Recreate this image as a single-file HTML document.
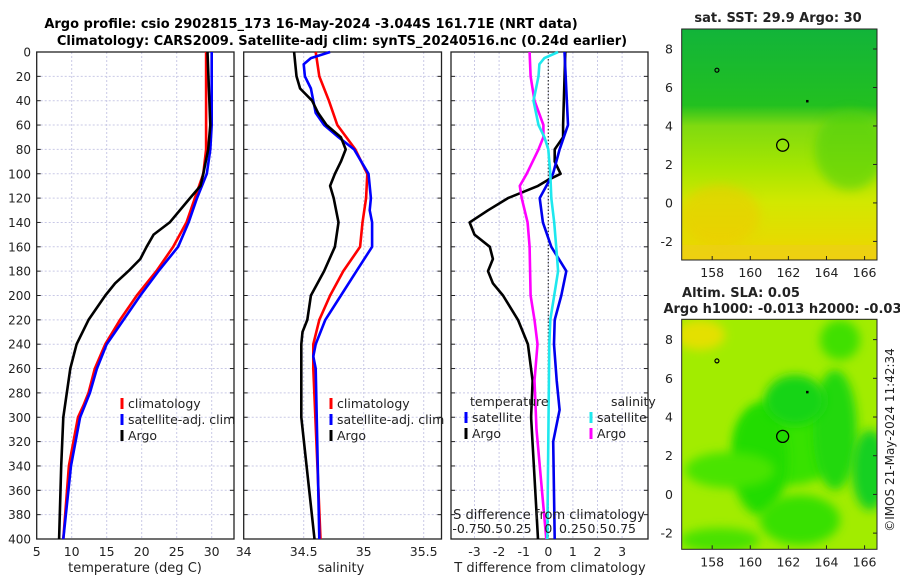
<!DOCTYPE html>
<html><head><meta charset="utf-8"><style>
body{margin:0;background:#fff;}
svg{display:block;font-family:"DejaVu Sans","Liberation Sans",sans-serif;}
</style></head><body>
<svg id="fig" width="900" height="580" viewBox="0 0 900 580">
<defs>
<linearGradient id="sstGrad" x1="0" y1="0" x2="0" y2="1">
<stop offset="0" stop-color="#12b43a"/><stop offset="0.33" stop-color="#22c020"/>
<stop offset="0.42" stop-color="#80da10"/><stop offset="0.6" stop-color="#a6e600"/>
<stop offset="0.75" stop-color="#d2e800"/><stop offset="1" stop-color="#f0d400"/>
</linearGradient>
<filter id="blur" x="-50%" y="-50%" width="200%" height="200%"><feGaussianBlur stdDeviation="5"/></filter>
<clipPath id="clipM1"><rect x="681.7" y="29" width="195.3" height="231"/></clipPath>
<clipPath id="clipM2"><rect x="681.7" y="319.3" width="195.3" height="230"/></clipPath>
</defs>
<text x="311" y="28" font-size="13" font-weight="bold" text-anchor="middle">Argo profile: csio 2902815_173 16-May-2024 -3.044S 161.71E (NRT data)</text>
<text x="342" y="45" font-size="13" font-weight="bold" text-anchor="middle">Climatology: CARS2009. Satellite-adj clim: synTS_20240516.nc (0.24d earlier)</text>
<g id="p1"></g>
<g id="p2"></g>
<g id="p3"></g>
<g id="m1"></g>
<g id="m2"></g>
<text transform="translate(894,440) rotate(-90)" font-size="12" text-anchor="middle" fill="#222">©IMOS 21-May-2024 11:42:34</text>
</svg>
<script>
// ---- data ----
const depthTicks = [0,20,40,60,80,100,120,140,160,180,200,220,240,260,280,300,320,340,360,380,400];
const tTicks = [5,10,15,20,25,30,35];
const sTicks = [34,34.5,35,35.5];
const dTTicks = [-3,-2,-1,0,1,2,3];
const dSTickLabels = ["-0.75","0.5","0.25","0","0.25","0.5","0.75"];
const dSTickVals = [-0.75,-0.5,-0.25,0,0.25,0.5,0.75];

const tArgoDepth = [0,60,80,100,110,120,140,150,160,170,180,190,200,220,240,260,300,340,400];
const tArgo      = [29.4,29.8,29.5,28.8,28.4,26.9,24.0,21.7,20.7,19.8,18.1,16.2,14.8,12.4,10.7,9.8,8.8,8.5,8.2];
const tClimDepth = [0,80,100,120,140,160,180,200,220,240,260,280,290,300,340,400];
const tClim      = [29.2,29.2,28.8,27.6,26.4,24.5,22.1,19.3,16.9,14.8,13.3,12.4,11.7,10.9,9.6,8.8];
const tSatDepth  = [0,60,80,100,120,140,160,180,200,220,240,260,280,290,300,340,400];
const tSat       = [30.0,30.0,29.8,29.3,27.9,26.7,25.2,22.4,19.8,17.4,15.0,13.6,12.6,11.9,11.2,9.9,8.8];

const sArgoDepth = [0,10,20,30,40,50,60,70,80,90,100,110,120,140,160,180,200,220,230,240,300,400];
const sArgo      = [34.42,34.43,34.44,34.47,34.57,34.62,34.69,34.81,34.85,34.81,34.76,34.72,34.75,34.79,34.76,34.67,34.56,34.53,34.49,34.48,34.48,34.59];
const sSatDepth  = [0,5,10,20,30,50,60,70,80,100,120,130,140,160,180,200,220,240,250,260,400];
const sSat       = [34.72,34.56,34.50,34.51,34.56,34.60,34.67,34.79,34.92,35.04,35.06,35.05,35.07,35.07,34.94,34.81,34.68,34.60,34.58,34.60,34.63];
const sClimDepth = [0,20,40,60,80,100,120,140,160,180,200,220,240,260,400];
const sClim      = [34.60,34.63,34.71,34.78,34.93,35.03,35.02,34.99,34.97,34.83,34.72,34.63,34.58,34.58,34.64];

const dTArgoDepth = [0,60,70,80,90,100,105,110,120,130,140,150,160,170,180,190,200,220,240,270,300,400];
const dTArgo      = [0.69,0.6,0.6,0.26,0.26,0.5,0.0,-0.42,-1.64,-2.45,-3.2,-3.0,-2.38,-2.25,-2.45,-2.25,-1.84,-1.23,-0.83,-0.64,-0.7,-0.42];
const dTSatDepth  = [0,60,80,100,120,140,160,180,200,220,240,270,294,320,400];
const dTSat       = [0.66,0.8,0.46,0.19,-0.35,-0.22,0.12,0.73,0.53,0.26,0.23,0.34,0.46,0.2,0.26];
const dSSatDepth  = [0,5,10,20,40,60,70,80,100,120,140,160,180,200,220,240,400];
const dSSat       = [0.10,-0.04,-0.09,-0.10,-0.15,-0.10,-0.04,0.0,0.02,0.03,0.06,0.08,0.10,0.06,0.02,0.01,-0.01];
const dSArgoDepth = [0,20,40,60,70,80,100,110,120,140,160,200,220,240,270,310,400];
const dSArgo      = [-0.19,-0.18,-0.14,-0.05,-0.05,-0.10,-0.22,-0.29,-0.27,-0.21,-0.19,-0.18,-0.14,-0.11,-0.14,-0.12,-0.02];

const lonTicks = [158,160,162,164,166];
const latTicks = [-2,0,2,4,6,8];
const argoLon = [161.7];
const argoLat = [3.0];

// ---- scales ----
const NS='http://www.w3.org/2000/svg';
const Y0=52, Y1=539;
const yD = d => Y0 + (d/400)*(Y1-Y0);
const P1={x0:36.7,x1:234}, P2={x0:243.7,x1:441.5}, P3={x0:451,x1:648};
const xT = t => P1.x0 + (t-5)*7;
const xS = s => P2.x0 + (s-34)*120;
const xDT = v => 548.3 + v*24.6;
const xDS = v => 548.3 + v*98.4;
const M={x0:681.7,x1:877};
const xLon = l => M.x0 + (l-156.4)*19.05;
const yLat1 = l => 29 + (9.04-l)*19.24;
const yLat2 = l => 319.3 + (9.05-l)*19.35;

function mk(tag, attrs, parent){
  const e=document.createElementNS(NS,tag);
  for(const k in attrs) e.setAttribute(k,attrs[k]);
  parent.appendChild(e); return e;
}
function txt(parent,x,y,s,size,anchor,extra){
  const e=mk('text',Object.assign({x:x,y:y,'font-size':size||12,'text-anchor':anchor||'middle',fill:'#222'},extra||{}),parent);
  e.textContent=s; return e;
}

function frame(g,P,xvals,xf,labelLeft){
  const grid=mk('g',{},g);
  
  
  depthTicks.forEach(d=>{ if(d>0&&d<400) mk('line',{x1:P.x0,x2:P.x1,y1:yD(d),y2:yD(d),stroke:'#c9c9e6','stroke-width':1,'stroke-dasharray':'2,2'},grid);});
  xvals.forEach(v=>{const x=xf(v); if(x>P.x0+1&&x<P.x1-1) mk('line',{x1:x,x2:x,y1:Y0,y2:Y1,stroke:'#c9c9e6','stroke-width':1,'stroke-dasharray':'2,2'},grid);});
  const ax=mk('g',{},g);
  
  
  mk('rect',{x:P.x0,y:Y0,width:P.x1-P.x0,height:Y1-Y0,fill:'none',stroke:'#222','stroke-width':1.3},ax);
  depthTicks.forEach(d=>{
    mk('line',{x1:P.x0,x2:P.x0+4,y1:yD(d),y2:yD(d),stroke:'#222'},ax);
    mk('line',{x1:P.x1-4,x2:P.x1,y1:yD(d),y2:yD(d),stroke:'#222'},ax);
    if(labelLeft){const t=txt(ax,31,yD(d)+4.5,String(d),12,'end');
      
      }
  });
}
function line(g,xs,ds,xf,color,name){
  const pts=xs.map((v,i)=>xf(v).toFixed(1)+','+yD(ds[i]).toFixed(1)).join(' ');
  const p=mk('polyline',{points:pts,fill:'none',stroke:color,'stroke-width':2.6,'stroke-linejoin':'round'},g);
  
  
}
function legend(g,x,y,color,label,name){
  const grp=mk('g',{},g);
  
  
  mk('line',{x1:x,x2:x,y1:y-10,y2:y+1,stroke:color,'stroke-width':3},grp);
  txt(grp,x+6,y,label,12.5,'start');
}

// Panel 1
const p1=document.getElementById('p1');
frame(p1,P1,tTicks,xT,true);
line(p1,tClim,tClimDepth,xT,'#f00','climatology-temperature-line');
line(p1,tSat,tSatDepth,xT,'#00f','satellite-temperature-line');
line(p1,tArgo,tArgoDepth,xT,'#000','argo-temperature-line');
tTicks.forEach(v=>{ if(v<33){const t=txt(p1,xT(v),556,String(v),12.5);
  
  }});
txt(p1,135,572,'temperature (deg C)',13);
legend(p1,122,408,'#f00','climatology','legend-climatology');
legend(p1,122,424,'#00f','satellite-adj. clim','legend-satellite');
legend(p1,122,440,'#000','Argo','legend-argo');

// Panel 2
const p2=document.getElementById('p2');
frame(p2,P2,sTicks,xS,false);
line(p2,sClim,sClimDepth,xS,'#f00','climatology-salinity-line');
line(p2,sSat,sSatDepth,xS,'#00f','satellite-salinity-line');
line(p2,sArgo,sArgoDepth,xS,'#000','argo-salinity-line');
sTicks.forEach(v=>{const t=txt(p2,xS(v),556,String(v),12.5);
  
  });
txt(p2,341,572,'salinity',13);
legend(p2,331,408,'#f00','climatology','legend-climatology');
legend(p2,331,424,'#00f','satellite-adj. clim','legend-satellite');
legend(p2,331,440,'#000','Argo','legend-argo');

// Panel 3
const p3=document.getElementById('p3');
frame(p3,P3,dTTicks,xDT,false);
const zl=mk('line',{x1:xDT(0),x2:xDT(0),y1:Y0,y2:Y1,stroke:'#333','stroke-width':1.2,'stroke-dasharray':'1.5,2'},p3);


line(p3,dTArgo,dTArgoDepth,xDT,'#000','argo-temperature-diff-line');
line(p3,dTSat,dTSatDepth,xDT,'#00e','satellite-temperature-diff-line');
line(p3,dSArgo,dSArgoDepth,xDS,'#f0f','argo-salinity-diff-line');
line(p3,dSSat,dSSatDepth,xDS,'#1ee8ee','satellite-salinity-diff-line');
dTTicks.forEach(v=>{const t=txt(p3,xDT(v),556,String(v),12.5);
  
  });
txt(p3,550,572,'T difference from climatology',13);
txt(p3,549,519,'S difference from climatology',13);
dSTickVals.forEach((v,i)=>{const t=txt(p3,xDS(v)+(v<0?-6:0),533,dSTickLabels[i],12.5);
  
  });
txt(p3,470,406,'temperature',12.5,'start');
txt(p3,611,406,'salinity',12.5,'start');
legend(p3,466,422,'#00f','satellite','legend-t-satellite');
legend(p3,466,438,'#000','Argo','legend-t-argo');
legend(p3,591,422,'#1ee8ee','satellite','legend-s-satellite');
legend(p3,591,438,'#f0f','Argo','legend-s-argo');

// Maps
function mapAxes(g,top,bot,yL){
  mk('rect',{x:M.x0,y:top,width:M.x1-M.x0,height:bot-top,fill:'none',stroke:'#222','stroke-width':1},g);
  latTicks.forEach(l=>{const y=yL(l);
    mk('line',{x1:M.x1-4,x2:M.x1,y1:y,y2:y,stroke:'#222'},g);
    const t=txt(g,673,y+4.5,String(l),12.5,'end');
    
    });
  lonTicks.forEach(l=>{const x=xLon(l);
    mk('line',{x1:x,x2:x,y1:bot,y2:bot-4,stroke:'#222'},g);
    const t=txt(g,x,bot+17,String(l),12.5);
    
    });
}
function markers(g,yL,fill){
  argoLon.forEach((lo,i)=>{
    const c=mk('circle',{cx:xLon(lo),cy:yL(argoLat[i]),r:6,fill:fill,stroke:'#000','stroke-width':1.3},g);
    
    
  });
  mk('circle',{cx:xLon(158.25),cy:yL(6.9),r:2,fill:'none',stroke:'#000','stroke-width':1.2},g);
  mk('rect',{x:xLon(162.98)-1,y:yL(5.3)-1,width:2.5,height:2.5,fill:'#000'},g);
}
const m1=document.getElementById('m1');
txt(m1,778,22,'sat. SST: 29.9 Argo: 30',13,'middle',{'font-weight':'bold'});
const g1=mk('g',{'clip-path':'url(#clipM1)'},m1);
mk('rect',{x:M.x0,y:29,width:195.3,height:231,fill:'url(#sstGrad)'},g1);
mk('ellipse',{cx:720,cy:215,rx:40,ry:30,fill:'#f0c800',opacity:0.5,filter:'url(#blur)'},g1);
mk('ellipse',{cx:850,cy:150,rx:35,ry:40,fill:'#50d010',opacity:0.6,filter:'url(#blur)'},g1);
mk('rect',{x:M.x0,y:245,width:195.3,height:15,fill:'#eecc20',opacity:0.5},g1);
markers(m1,yLat1,'none');
mapAxes(m1,29,260,yLat1);
txt(m1,741,297,'Altim. SLA: 0.05',13,'middle',{'font-weight':'bold'});
txt(m1,787,313,'Argo h1000: -0.013 h2000: -0.033',13,'middle',{'font-weight':'bold'});

const m2=document.getElementById('m2');
const g2=mk('g',{'clip-path':'url(#clipM2)'},m2);
mk('rect',{x:M.x0,y:319.3,width:195.3,height:230,fill:'#a2ec00'},g2);
[[790,440,55,45,'#38e200'],[760,460,28,55,'#22dc00'],[835,430,22,60,'#20d810'],[870,470,18,40,'#18d020'],[795,400,30,25,'#18d418'],[730,470,45,18,'#48e400'],[800,520,40,25,'#38e000'],[720,540,40,12,'#48e200'],[840,340,20,20,'#40e000'],[700,335,25,15,'#e4e000']].forEach(b=>{
  mk('ellipse',{cx:b[0],cy:b[1],rx:b[2],ry:b[3],fill:b[4],filter:'url(#blur)'},g2);
});
markers(m2,yLat2,'#22d800');
mapAxes(m2,319.3,549.3,yLat2);
</script>
</body></html>
